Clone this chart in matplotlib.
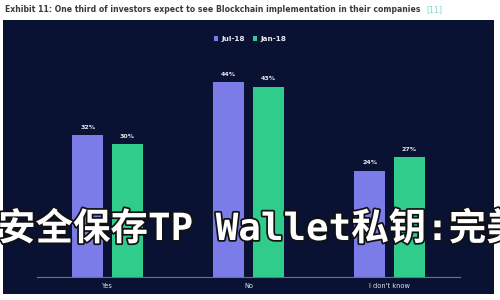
import matplotlib
matplotlib.use("Agg")
import matplotlib.pyplot as plt
import matplotlib.patheffects as pe
import numpy as np

# data
categories = ["Yes", "No", "I don't know"]
jul_18 = [32, 44, 24]
jan_18 = [30, 43, 27]
series_names = ["Jul-18", "Jan-18"]

title = "Exhibit 11: One third of investors expect to see Blockchain implementation in their companies"
watermark = "安全保存TP Wallet私钥:完美"

navy = "#0a1233"
purple = "#7b7ce8"
green = "#2fcc8c"

W, H = 500, 300
fig = plt.figure(figsize=(W / 100, H / 100), dpi=100, facecolor="white")

# title line on white
fig.text(5 / W, 1 - 10 / H, title, fontsize=5.6, fontweight="bold", color="#3a3a3a",
         va="center", ha="left", family="DejaVu Sans")
fig.text(426 / W, 1 - 10 / H, "[11]", fontsize=5.6, color="#7fd6c8", va="center", ha="left")

# dark panel
panel = fig.add_axes([3 / W, 1 - 294 / H, 491 / W, 274 / H])
panel.set_facecolor(navy)
panel.set_xticks([])
panel.set_yticks([])
for s in panel.spines.values():
    s.set_visible(False)

# plot area
ax = fig.add_axes([37 / W, 23 / H, 423 / W, 217 / H])
ax.set_facecolor("none")
x = np.arange(len(categories))
w = 0.22
off = 0.14
b1 = ax.bar(x - off, jul_18, w, color=purple, label=series_names[0])
b2 = ax.bar(x + off, jan_18, w, color=green, label=series_names[1])
for bars in (b1, b2):
    for r in bars:
        ax.text(r.get_x() + r.get_width() / 2, r.get_height() + 1.2, "%d%%" % r.get_height(),
                ha="center", va="bottom", fontsize=4.5, color="#e6e8f0", fontweight="bold")
ax.set_xlim(-0.5, 2.5)
ax.set_ylim(0, 49)
ax.set_yticks([])
ax.set_xticks(x)
ax.set_xticklabels(categories, fontsize=4.8, color="#dfe2ee")
ax.tick_params(axis="x", length=0, pad=4)
for k in ("top", "right", "left"):
    ax.spines[k].set_visible(False)
ax.spines["bottom"].set_color("#6b7290")
ax.spines["bottom"].set_linewidth(0.8)

fig.legend(handles=[b1, b2], labels=series_names, loc="center", bbox_to_anchor=(250 / W, 1 - 39 / H),
           ncol=2, frameon=False, labelcolor="#e6e8f0", handlelength=0.6,
           handleheight=0.6, handletextpad=0.4, columnspacing=1.2,
           prop={"weight": "bold", "size": 5.2})

# overlaid watermark text
fig.text(-2 / W, 1 - 230 / H, watermark, fontsize=27, fontweight="bold", color="white",
         va="center", ha="left", family=["DejaVu Sans Mono", "Noto Sans CJK SC"],
         path_effects=[pe.withStroke(linewidth=2.5, foreground="#111111")])

fig.savefig("out.png", dpi=100, facecolor="white")
